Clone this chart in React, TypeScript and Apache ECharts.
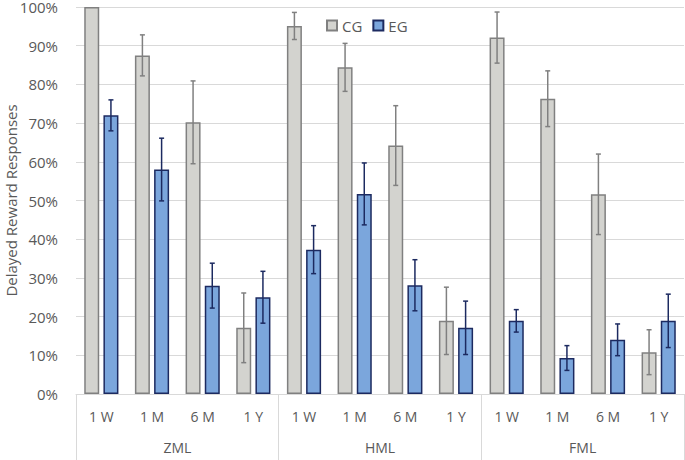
import React, { useEffect, useRef } from "react";
import * as echarts from "echarts";

const periods = ["1 W", "1 M", "6 M", "1 Y"];
const groups = ["ZML", "HML", "FML"];
const categories = groups.flatMap((g) => periods.map((p) => p));
const cgValues = [100, 87.5, 70.2, 17.1, 95.1, 84.4, 64.2, 18.9, 92.1, 76.3, 51.6, 10.8];
const egValues = [72, 58, 28, 25, 37.3, 51.7, 28.1, 17.1, 18.9, 9.3, 14, 18.9];
const cgErr = [0, 5.3, 10.7, 9, 3.5, 6.2, 10.3, 8.7, 6.6, 7.2, 10.4, 5.8];
const egErr = [4, 8.1, 5.8, 6.7, 6.2, 8, 6.6, 6.9, 2.9, 3.2, 4.1, 6.9];
const yTicks = [0, 10, 20, 30, 40, 50, 60, 70, 80, 90, 100];

const FONT = "Open Sans";
const TEXT = "#595959";
const GRID = "#d9d9d9";
const CG_FILL = "#d3d3cf";
const CG_LINE = "#808080";
const EG_FILL = "#7ba6dc";
const EG_LINE = "#1c2a60";
const BAR_W = 15;
const GAP = 4.2;

function errItem(offset: number, color: string) {
  return (params: any, api: any) => {
    const i = api.value(0);
    const v = api.value(1);
    const e = api.value(2);
    if (!e) return null;
    const top = api.coord([i, v + e]);
    const bot = api.coord([i, v - e]);
    const x = top[0] + offset;
    const cap = 2.5;
    const style = { stroke: color, lineWidth: 1.5 };
    return {
      type: "group",
      children: [
        { type: "line", shape: { x1: x, y1: top[1], x2: x, y2: bot[1] }, style },
        { type: "line", shape: { x1: x - cap, y1: top[1], x2: x + cap, y2: top[1] }, style },
        { type: "line", shape: { x1: x - cap, y1: bot[1], x2: x + cap, y2: bot[1] }, style },
      ],
    };
  };
}

export default function App() {
  const ref = useRef<HTMLDivElement>(null);
  useEffect(() => {
    const chart = echarts.init(ref.current!, null, { renderer: "svg" });
    const off = (BAR_W + GAP) / 2;
    chart.setOption({
      animation: false,
      textStyle: { fontFamily: FONT },
      legend: {
        left: 321,
        top: 13,
        itemWidth: 10,
        itemHeight: 10,
        itemGap: 10,
        icon: "rect",
        textStyle: { fontSize: 15, color: TEXT, fontFamily: FONT },
        data: ["CG", "EG"],
      },
      grid: { left: 76, right: 1, top: 7, bottom: 66, outerBoundsMode: "none", containLabel: false },
      xAxis: [
        {
          type: "category",
          data: categories,
          axisLine: { show: true, lineStyle: { color: GRID, width: 1 } },
          axisTick: { show: false },
          axisLabel: { color: TEXT, fontSize: 14, margin: 15, fontFamily: FONT },
        },
        {
          type: "category",
          data: groups,
          position: "bottom",
          axisLine: { show: false },
          axisTick: { show: true, length: 66, lineStyle: { color: GRID, width: 1 } },
          axisLabel: { color: TEXT, fontSize: 14, margin: 46, fontFamily: FONT },
        },
      ],
      yAxis: {
        type: "value",
        min: 0,
        max: 100,
        interval: 10,
        name: "Delayed Reward Responses",
        nameLocation: "middle",
        nameGap: 58,
        nameMoveOverlap: false,
        nameTextStyle: { color: TEXT, fontSize: 15, fontFamily: FONT },
        axisLine: { show: false },
        axisTick: { show: false },
        axisLabel: {
          color: TEXT,
          fontSize: 15,
          margin: 18,
          fontFamily: FONT,
          formatter: (v: number) => (yTicks.includes(v) ? v + "%" : ""),
        },
        splitLine: { lineStyle: { color: GRID, width: 1 } },
      },
      series: [
        {
          name: "CG",
          type: "bar",
          data: cgValues,
          barWidth: BAR_W,
          barGap: (GAP / BAR_W) * 100 + "%",
          itemStyle: { color: CG_FILL, borderColor: CG_LINE, borderWidth: 1.5 },
        },
        {
          name: "EG",
          type: "bar",
          data: egValues,
          barWidth: BAR_W,
          itemStyle: { color: EG_FILL, borderColor: EG_LINE, borderWidth: 1.5 },
        },
        {
          type: "custom",
          name: "CG err",
          renderItem: errItem(-off, CG_LINE),
          data: cgValues.map((v, i) => [i, v, cgErr[i]]),
          encode: { x: 0, y: 1 },
          z: 10,
          clip: false,
        },
        {
          type: "custom",
          name: "EG err",
          renderItem: errItem(off, EG_LINE),
          data: egValues.map((v, i) => [i, v, egErr[i]]),
          encode: { x: 0, y: 1 },
          z: 10,
          clip: false,
        },
      ],
    });
    return () => chart.dispose();
  }, []);
  return <div ref={ref} style={{ width: 685, height: 460, position: "absolute", left: 0, top: 0 }} />;
}
